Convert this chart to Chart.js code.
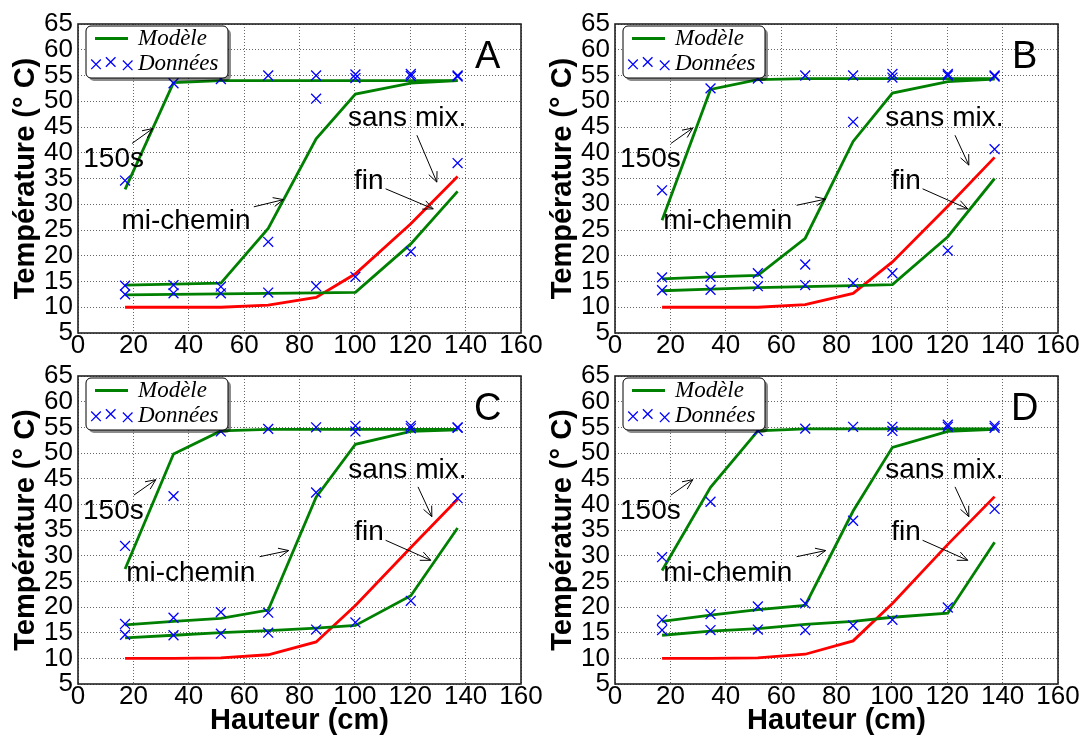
<!DOCTYPE html>
<html>
<head>
<meta charset="utf-8">
<script src="https://cdn.jsdelivr.net/npm/chart.js@4.4.1/dist/chart.umd.min.js"></script>
<style>
  body { margin: 0; background: #fff; width: 1085px; height: 735px; overflow: hidden; position: relative; }
  canvas { position: absolute; }
</style>
</head>
<body>
<canvas id="pA" width="545" height="370" style="left:0px;top:0px"></canvas>
<canvas id="pB" width="548" height="370" style="left:537px;top:0px"></canvas>
<canvas id="pC" width="545" height="383" style="left:0px;top:352px"></canvas>
<canvas id="pD" width="548" height="383" style="left:537px;top:352px"></canvas>
<script>
// hauteurs des capteurs (cm)
const hauteur = [17, 34.5, 51.6, 68.7, 86, 100.2, 120.2, 137.1];
const xTicks = [0, 20, 40, 60, 80, 100, 120, 140, 160];
const yTicks = [5, 10, 15, 20, 25, 30, 35, 40, 45, 50, 55, 60, 65];

// A
const modele150A = [32.9, 53.6, 54.0, 54.0, 54.0, 54.0, 54.0, 54.0];
const modeleMiA  = [14.3, 14.5, 14.7, 25.3, 42.7, 51.4, 53.5, 54.0];
const modeleFinA = [12.4, 12.5, 12.6, 12.7, 12.8, 12.9, 22.3, 32.5];
const sansMixA   = [10.0, 10.0, 10.0, 10.4, 11.9, 16.5, 26.2, 35.4];
const donnees150A = [34.6, 53.5, 54.3, 55.0, 55.0, 55.2, 55.3, 55.0];
const donneesMiA  = [14.2, 14.3, 14.0, 22.7, 50.5, 54.5, 54.9, 54.8];
const donneesFinA = [12.5, 12.7, 12.7, 12.85, 14.1, 15.9, 20.8, 38.0];

// B
const modele150B = [26.9, 52.3, 54.2, 54.4, 54.4, 54.4, 54.4, 54.4];
const modeleMiB  = [15.5, 15.9, 16.2, 23.4, 42.2, 51.6, 53.8, 54.3];
const modeleFinB = [13.2, 13.5, 13.8, 14.0, 14.2, 14.4, 23.7, 35.0];
const sansMixB   = [10.0, 10.0, 10.0, 10.5, 12.7, 18.8, 29.6, 39.1];
const donnees150B = [32.7, 52.5, 54.4, 55.0, 55.0, 55.3, 55.3, 55.0];
const donneesMiB  = [15.8, 15.9, 16.6, 18.3, 46.0, 54.6, 55.0, 54.8];
const donneesFinB = [13.3, 13.4, 14.1, 14.3, 14.7, 16.6, 21.0, 40.7];

// C
const modele150C = [27.4, 49.8, 54.3, 54.6, 54.6, 54.6, 54.6, 54.6];
const modeleMiC  = [16.5, 17.2, 17.8, 19.4, 41.4, 51.7, 54.2, 54.5];
const modeleFinC = [14.0, 14.5, 15.0, 15.4, 15.9, 16.4, 22.2, 35.4];
const sansMixC   = [10.0, 10.0, 10.1, 10.7, 13.2, 20.3, 31.6, 41.0];
const donnees150C = [31.9, 41.6, 54.2, 54.7, 55.0, 55.3, 55.3, 55.0];
const donneesMiC  = [16.7, 17.9, 19.0, 18.9, 42.3, 54.2, 54.8, 54.9];
const donneesFinC = [14.6, 14.5, 14.8, 15.0, 15.6, 17.0, 21.2, 41.2];

// D
const modele150D = [27.1, 43.3, 54.3, 54.7, 54.7, 54.7, 54.7, 54.7];
const modeleMiD  = [17.2, 18.4, 19.5, 20.3, 38.7, 51.1, 54.2, 54.6];
const modeleFinD = [14.5, 15.3, 15.8, 16.6, 17.2, 18.0, 18.8, 32.6];
const sansMixD   = [10.0, 10.0, 10.1, 10.8, 13.4, 20.7, 32.2, 41.5];
const donnees150D = [29.7, 40.5, 54.3, 54.75, 55.1, 55.1, 55.5, 55.3];
const donneesMiD  = [17.5, 18.6, 20.1, 20.7, 36.8, 54.3, 55.1, 54.9];
const donneesFinD = [15.5, 15.5, 15.6, 15.5, 16.4, 17.5, 19.9, 39.1];

const VERT = '#008000', ROUGE = '#ff0000', BLEU = '#0000ff';
const SANS = '"Liberation Sans", Arial, Helvetica, sans-serif';

// annotations (text + arrow), in data coordinates
const notesBase = [
  { text: '150s',      x: 1.8,  y: 37.2, from: [20.2, 41.8], to: [28.1, 44.8] },
  { text: 'mi-chemin', x: 17.4, y: 25.1, from: [65.6, 29.8], to: [76.1, 31.0] },
  { text: 'sans mix.', x: 97.6, y: 45.2, from: [122.8, 43.4], to: [127.8, 37.6] },
  { text: 'fin',       x: 99.8, y: 33.0, from: [111.1, 33.0], to: [127.4, 29.1] }
];
const notesA = [
  { text: '150s',      x: 1.9,  y: 37.2, from: [19.5, 41.8], to: [27.0, 44.7] },
  { text: 'mi-chemin', x: 15.7, y: 25.25, from: [63.5, 29.5], to: [74.2, 30.9] },
  { text: 'sans mix.', x: 97.5, y: 45.2, from: [122.4, 43.4], to: [129.6, 34.3] },
  { text: 'fin',       x: 99.7, y: 33.0, from: [111.1, 33.0], to: [128.3, 29.1] }
];

function pts(ys) {
  return hauteur.map((h, i) => ({ x: h, y: ys[i] }));
}

function arrow(ctx, x1, y1, x2, y2) {
  ctx.beginPath(); ctx.moveTo(x1, y1); ctx.lineTo(x2, y2); ctx.stroke();
  const a = Math.atan2(y2 - y1, x2 - x1), L = 11, s = 0.42;
  ctx.beginPath();
  ctx.moveTo(x2 - L * Math.cos(a - s), y2 - L * Math.sin(a - s));
  ctx.lineTo(x2, y2);
  ctx.lineTo(x2 - L * Math.cos(a + s), y2 - L * Math.sin(a + s));
  ctx.stroke();
}

function croix(ctx, cx, cy, r) {
  ctx.beginPath();
  ctx.moveTo(cx - r, cy - r); ctx.lineTo(cx + r, cy + r);
  ctx.moveTo(cx - r, cy + r); ctx.lineTo(cx + r, cy - r);
  ctx.stroke();
}

function roundRect(ctx, x, y, w, h, r) {
  ctx.beginPath();
  ctx.moveTo(x + r, y);
  ctx.arcTo(x + w, y, x + w, y + h, r);
  ctx.arcTo(x + w, y + h, x, y + h, r);
  ctx.arcTo(x, y + h, x, y, r);
  ctx.arcTo(x, y, x + w, y, r);
  ctx.closePath();
}

function overlay(p) {
  return {
    id: 'overlay',
    afterDatasetsDraw(chart) {
      const { ctx, chartArea: a, scales: { x, y } } = chart;
      ctx.save();
      // annotations
      ctx.fillStyle = '#000'; ctx.strokeStyle = '#000'; ctx.lineWidth = 1;
      ctx.font = '28px ' + SANS;
      ctx.textAlign = 'left'; ctx.textBaseline = 'alphabetic';
      p.notes.forEach(n => {
        ctx.fillText(n.text, x.getPixelForValue(n.x), y.getPixelForValue(n.y));
        arrow(ctx, x.getPixelForValue(n.from[0]), y.getPixelForValue(n.from[1]),
                   x.getPixelForValue(n.to[0]), y.getPixelForValue(n.to[1]));
      });
      // panel letter
      ctx.font = '38px ' + SANS;
      ctx.textAlign = 'center';
      ctx.fillText(p.letter, x.getPixelForValue(148), y.getPixelForValue(56.4));

      // legend box
      const lx = a.left + 8, ly = a.top + 2, lw = 142, lh = 52;
      ctx.fillStyle = 'rgba(0,0,0,0.45)';
      roundRect(ctx, lx + 3, ly + 3, lw, lh, 5); ctx.fill();
      ctx.fillStyle = '#fff'; ctx.strokeStyle = '#000'; ctx.lineWidth = 1;
      roundRect(ctx, lx, ly, lw, lh, 5); ctx.fill(); ctx.stroke();
      ctx.strokeStyle = VERT; ctx.lineWidth = 3;
      ctx.beginPath(); ctx.moveTo(lx + 9, ly + 12.5); ctx.lineTo(lx + 42, ly + 12.5); ctx.stroke();
      ctx.strokeStyle = BLEU; ctx.lineWidth = 1.3;
      croix(ctx, lx + 10, ly + 38.3, 4.8);
      croix(ctx, lx + 24.7, ly + 36, 4.8);
      croix(ctx, lx + 41.7, ly + 39.3, 4.8);
      ctx.fillStyle = '#000';
      ctx.textAlign = 'left';
      ctx.font = 'italic 23px "Liberation Serif", "Times New Roman", serif';
      ctx.fillText('Modèle', lx + 52, ly + 18.5);
      ctx.fillText('Données', lx + 52, ly + 43.5);

      // frame
      ctx.strokeStyle = '#222'; ctx.lineWidth = 1.6;
      ctx.strokeRect(a.left, a.top, a.right - a.left, a.bottom - a.top);
      ctx.restore();
    }
  };
}

function panneau(p) {
  const ligne = (ys, color) => ({
    data: pts(ys), showLine: true, borderColor: color, borderWidth: 2.8,
    pointRadius: 0, fill: false, tension: 0
  });
  const croixSet = ys => ({
    data: pts(ys), showLine: false, pointStyle: 'crossRot', pointRadius: 7,
    borderColor: BLEU, backgroundColor: BLEU, pointBorderWidth: 1.3
  });
  new Chart(document.getElementById(p.id), {
    type: 'scatter',
    data: {
      datasets: [
        croixSet(p.d150), croixSet(p.dMi), croixSet(p.dFin),
        ligne(p.m150, VERT), ligne(p.mMi, VERT), ligne(p.mFin, VERT), ligne(p.sans, ROUGE)
      ]
    },
    options: {
      responsive: false,
      animation: false,
      devicePixelRatio: 1,
      layout: { padding: { top: 24, right: p.padRight, left: 0, bottom: 0 } },
      plugins: { legend: { display: false }, tooltip: { enabled: false } },
      scales: {
        x: {
          type: 'linear', min: 0, max: 160,
          afterBuildTicks: s => { s.ticks = xTicks.map(v => ({ value: v })); },
          afterFit: s => { s.height = p.bas ? 51 : 37; },
          ticks: { autoSkip: false, maxRotation: 0, padding: 0, color: '#000',
                   font: { family: SANS, size: 26, lineHeight: 1 } },
          grid: { color: 'rgba(0,0,0,0.6)', lineWidth: 1, drawTicks: false },
          border: { display: false, dash: [1, 2] },
          title: { display: p.bas, text: 'Hauteur (cm)', color: '#000', padding: 0,
                   font: { family: SANS, size: 29, weight: 'bold', lineHeight: 1 } }
        },
        y: {
          type: 'linear', min: 5, max: 65,
          afterBuildTicks: s => { s.ticks = yTicks.map(v => ({ value: v })); },
          afterFit: s => { s.width = 78; },
          ticks: { autoSkip: false, padding: 5, color: '#000',
                   font: { family: SANS, size: 26, lineHeight: 1 } },
          grid: { color: 'rgba(0,0,0,0.6)', lineWidth: 1, drawTicks: false },
          border: { display: false, dash: [1, 2] },
          title: { display: true, text: 'Température (° C)', color: '#000',
                   padding: { top: 11, bottom: 0 },
                   font: { family: SANS, size: 29, weight: 'bold', lineHeight: 1 } }
        }
      }
    },
    plugins: [overlay(p)]
  });
}

panneau({ id: 'pA', letter: 'A', padRight: 24, bas: false, notes: notesA,
  m150: modele150A, mMi: modeleMiA, mFin: modeleFinA, sans: sansMixA,
  d150: donnees150A, dMi: donneesMiA, dFin: donneesFinA });
panneau({ id: 'pB', letter: 'B', padRight: 27, bas: false, notes: notesBase,
  m150: modele150B, mMi: modeleMiB, mFin: modeleFinB, sans: sansMixB,
  d150: donnees150B, dMi: donneesMiB, dFin: donneesFinB });
panneau({ id: 'pC', letter: 'C', padRight: 24, bas: true, notes: notesBase,
  m150: modele150C, mMi: modeleMiC, mFin: modeleFinC, sans: sansMixC,
  d150: donnees150C, dMi: donneesMiC, dFin: donneesFinC });
panneau({ id: 'pD', letter: 'D', padRight: 27, bas: true, notes: notesBase,
  m150: modele150D, mMi: modeleMiD, mFin: modeleFinD, sans: sansMixD,
  d150: donnees150D, dMi: donneesMiD, dFin: donneesFinD });
</script>
</body>
</html>
